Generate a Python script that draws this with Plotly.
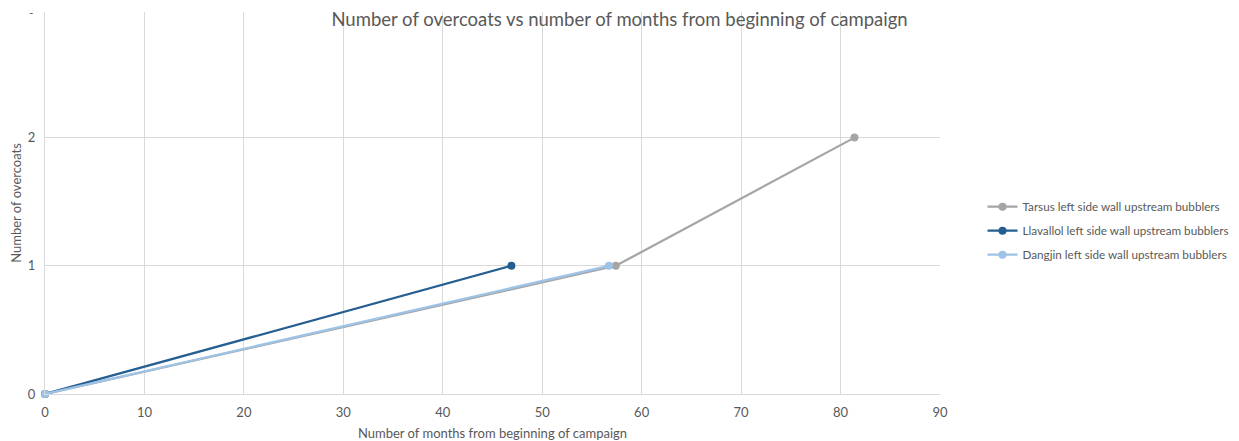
import plotly.graph_objects as go

# Cumulative overcoat counts against months since the start of the campaign
series_names = [
    "Tarsus left side wall upstream bubblers",
    "Llavallol left side wall upstream bubblers",
    "Dangjin left side wall upstream bubblers",
]
tarsus_months = [0, 57.4, 81.4]
tarsus_overcoats = [0, 1, 2]
llavallol_months = [0, 46.9]
llavallol_overcoats = [0, 1]
dangjin_months = [0, 56.7]
dangjin_overcoats = [0, 1]

x_ticks = [0, 10, 20, 30, 40, 50, 60, 70, 80, 90]
y_ticks = [0, 1, 2]

colors = ["#A5A5A5", "#255E91", "#9DC3E6"]
font_family = "Lato, 'Open Sans', sans-serif"
text_color = "#595959"
grid_color = "#D9D9D9"

fig = go.Figure()
for i, (name, xs, ys, col) in enumerate(zip(
    series_names,
    [tarsus_months, llavallol_months, dangjin_months],
    [tarsus_overcoats, llavallol_overcoats, dangjin_overcoats],
    colors,
)):
    fig.add_trace(go.Scatter(
        x=xs, y=ys, name=name, mode="lines+markers",
        legendgroup=f"g{i}",
        line=dict(color=col, width=2.25),
        marker=dict(color=col, size=8),
        cliponaxis=False,
    ))

fig.update_layout(
    width=1239, height=441,
    margin=dict(l=45, r=299, t=12, b=47, autoexpand=False),
    paper_bgcolor="white", plot_bgcolor="white",
    font=dict(family=font_family, color=text_color, size=12),
    title=dict(
        text="Number of overcoats vs number of months from beginning of campaign",
        x=0.5, xanchor="center", y=0.955, yanchor="middle",
        font=dict(size=18.5, color=text_color, family=font_family),
    ),
    legend=dict(
        xref="container", x=0.793, xanchor="left",
        yref="container", y=0.477, yanchor="middle",
        font=dict(size=11.7, color=text_color),
        tracegroupgap=5, itemwidth=30,
    ),
    showlegend=True,
)

fig.update_xaxes(
    range=[0, 90], tickvals=x_ticks, automargin=False,
    showgrid=True, gridcolor=grid_color, gridwidth=1,
    showline=True, linecolor=grid_color, linewidth=1,
    zeroline=False, ticks="", ticklen=0, ticklabelstandoff=6,
    tickfont=dict(size=13, color=text_color),
    title=dict(text="Number of months from beginning of campaign",
               font=dict(size=13, color=text_color), standoff=13),
)
fig.update_yaxes(
    range=[0, 2.98], tickvals=y_ticks, automargin=False,
    showgrid=True, gridcolor=grid_color, gridwidth=1,
    showline=True, linecolor=grid_color, linewidth=1,
    zeroline=False, ticks="", ticklen=0, ticklabelstandoff=6,
    tickfont=dict(size=13, color=text_color),
    title=dict(text="Number of overcoats",
               font=dict(size=13, color=text_color), standoff=3),
)

# Truncated label at the top of the value axis
fig.add_annotation(
    x=0, xref="paper", y=2.98, yref="y",
    text="-", showarrow=False, xanchor="right", xshift=-10,
    font=dict(size=12, color=text_color),
)

fig.write_html("out.html")
